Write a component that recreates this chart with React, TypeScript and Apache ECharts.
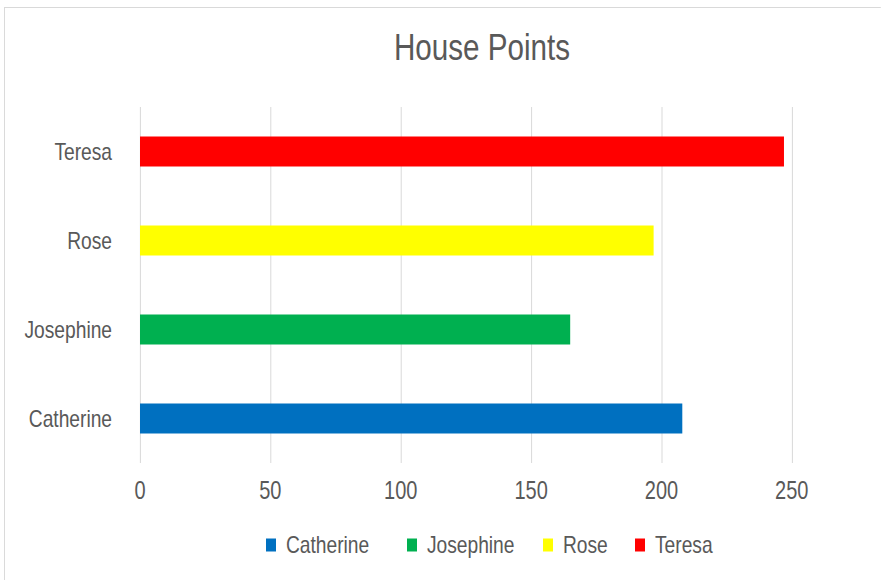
import React, { useEffect, useRef } from "react";
import * as echarts from "echarts";

const categories = ["Catherine", "Josephine", "Rose", "Teresa"];
const seriesNames = ["Catherine", "Josephine", "Rose", "Teresa"];
const values = [208, 165, 197, 247];
const colors = ["#0070C0", "#00B050", "#FFFF00", "#FF0000"];
const xTicks = [0, 50, 100, 150, 200, 250];

const FONT = "'Liberation Sans', Arial, sans-serif";
const TEXT = "#595959";
// the reference text is horizontally condensed: render wider, then squeeze
const SX = 0.8;
const W = 881 / SX;
const H = 580;
const X = (v: number) => v / SX;
const legendLefts = [266, 407, 543, 635];

export default function App() {
  const ref = useRef<HTMLDivElement>(null);
  useEffect(() => {
    if (!ref.current) return;
    const chart = echarts.init(ref.current, null, { renderer: "svg" });
    const series = seriesNames.map((name, i) => ({
      name,
      type: "bar",
      stack: "total",
      barWidth: 30,
      itemStyle: { color: colors[i] },
      data: categories.map((c, j) => (j === i ? values[i] : "-")),
    }));
    const legends = seriesNames.map((name, i) => ({
      data: [name],
      left: X(legendLefts[i]),
      top: 533,
      padding: 0,
      itemWidth: X(10),
      itemHeight: 13,
      icon: "rect",
      textStyle: { fontFamily: FONT, fontSize: 24, color: TEXT, padding: [0, 0, 0, X(10) - 5] },
    }));
    chart.setOption({
      animation: false,
      backgroundColor: "#ffffff",
      textStyle: { fontFamily: FONT },
      title: {
        text: "House Points",
        left: X(482),
        textAlign: "center",
        top: 29,
        padding: 0,
        textStyle: { fontFamily: FONT, fontSize: 37, fontWeight: "normal", color: TEXT },
      },
      graphic: [
        {
          type: "rect",
          shape: { x: X(4.5), y: 7.5, width: 2000, height: 1000 },
          style: { fill: "none", stroke: "#D9D9D9", lineWidth: 1.2 },
          silent: true,
        },
      ],
      legend: legends,
      grid: { left: X(140), right: X(89), top: 107, bottom: 117, containLabel: false },
      xAxis: {
        type: "value",
        min: xTicks[0],
        max: xTicks[xTicks.length - 1],
        interval: 50,
        axisLine: { show: false },
        axisTick: { show: false },
        axisLabel: { fontFamily: FONT, fontSize: 25, color: TEXT, margin: 15 },
        splitLine: { show: true, lineStyle: { color: "#D9D9D9", width: 1.25 } },
      },
      yAxis: {
        type: "category",
        data: categories,
        axisLine: { show: false },
        axisTick: { show: false },
        axisLabel: { fontFamily: FONT, fontSize: 24, color: TEXT, margin: X(28) },
        splitLine: { show: false },
      },
      series,
    });
    return () => chart.dispose();
  }, []);
  return (
    <div style={{ position: "fixed", left: 0, top: 0, width: 881, height: H, overflow: "hidden", background: "#fff" }}>
      <div
        ref={ref}
        style={{ width: W, height: H, transform: `scaleX(${SX})`, transformOrigin: "0 0" }}
      />
    </div>
  );
}
